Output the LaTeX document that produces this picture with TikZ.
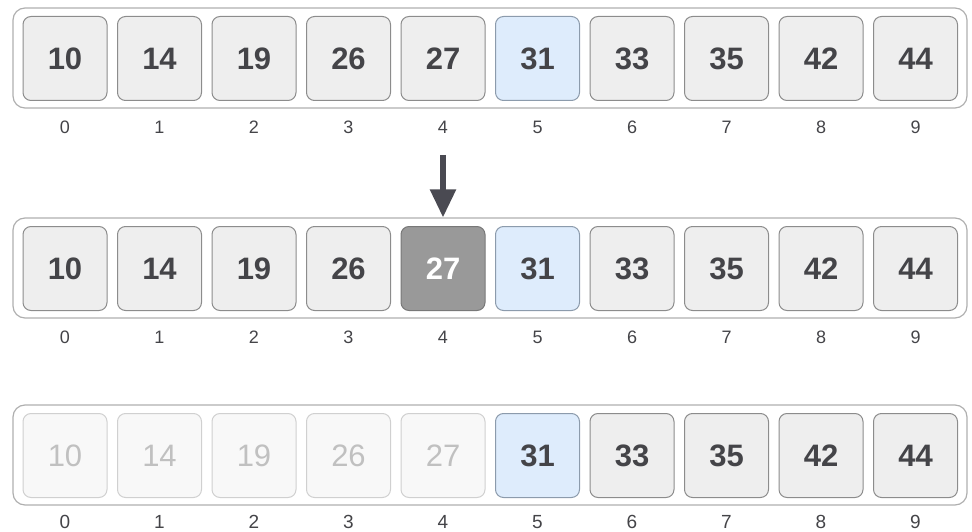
\documentclass[tikz,border=0pt]{standalone}
\usepackage{fontspec}
\setmainfont{Liberation Sans}
\usetikzlibrary{arrows.meta}
\definecolor{cellfill}{RGB}{238,238,238}
\definecolor{cellline}{RGB}{140,140,140}
\definecolor{celltext}{RGB}{68,68,72}
\definecolor{keyfill}{RGB}{222,236,252}
\definecolor{keyline}{RGB}{140,155,172}
\definecolor{midfill}{RGB}{153,153,153}
\definecolor{midline}{RGB}{120,120,120}
\definecolor{fadefill}{RGB}{248,248,248}
\definecolor{fadeline}{RGB}{208,208,208}
\definecolor{fadetext}{RGB}{192,192,192}
\definecolor{frameline}{RGB}{175,175,175}
\definecolor{pointer}{RGB}{74,74,82}

\begin{document}
\begin{tikzpicture}[
    x=1pt, y=-1pt,
    frame/.style={draw=frameline, line width=1.2pt, rounded corners=12pt, minimum width=954pt, minimum height=100pt},
    cell/.style={draw=cellline, fill=cellfill, line width=1pt, rounded corners=8pt, minimum width=84pt, minimum height=84pt, inner sep=0pt, text=celltext, font=\fontsize{31}{31}\selectfont\bfseries},
    keycell/.style={cell, draw=keyline, fill=keyfill},
    midcell/.style={cell, draw=midline, fill=midfill, text=white},
    fadecell/.style={cell, draw=fadeline, fill=fadefill, text=fadetext, font=\fontsize{31}{31}\selectfont},
    idx/.style={text=celltext, font=\fontsize{18}{18}\selectfont},
    arrow/.style={-{Triangle[length=28pt, width=25pt]}, line width=5.5pt, pointer}
  ]
    \useasboundingbox (0,0) rectangle (972,532);
    % row 1
    \node[frame] (row1) at (490,58) {};
    \foreach \v/\s [count=\i from 0] in {10/cell,14/cell,19/cell,26/cell,27/cell,31/keycell,33/cell,35/cell,42/cell,44/cell}{
      \node[\s] (a\i) at (65+94.5*\i,58.5) {\v};
      \node[idx] (ia\i) at (65+94.5*\i,127) {\i};
    }
    % row 2
    \node[frame] (row2) at (490,268) {};
    \foreach \v/\s [count=\i from 0] in {10/cell,14/cell,19/cell,26/cell,27/midcell,31/keycell,33/cell,35/cell,42/cell,44/cell}{
      \node[\s] (b\i) at (65+94.5*\i,268.5) {\v};
      \node[idx] (ib\i) at (65+94.5*\i,337) {\i};
    }
    % row 3
    \node[frame] (row3) at (490,455) {};
    \foreach \v/\s [count=\i from 0] in {10/fadecell,14/fadecell,19/fadecell,26/fadecell,27/fadecell,31/keycell,33/cell,35/cell,42/cell,44/cell}{
      \node[\s] (c\i) at (65+94.5*\i,455.5) {\v};
      \node[idx, font=\fontsize{19}{19}\selectfont] (ic\i) at (65+94.5*\i,522) {\i};
    }
    \coordinate (arrowtop) at (443,155);
    \draw[arrow] (arrowtop) -- (b4 |- row2.north);
  \end{tikzpicture}
\end{document}
